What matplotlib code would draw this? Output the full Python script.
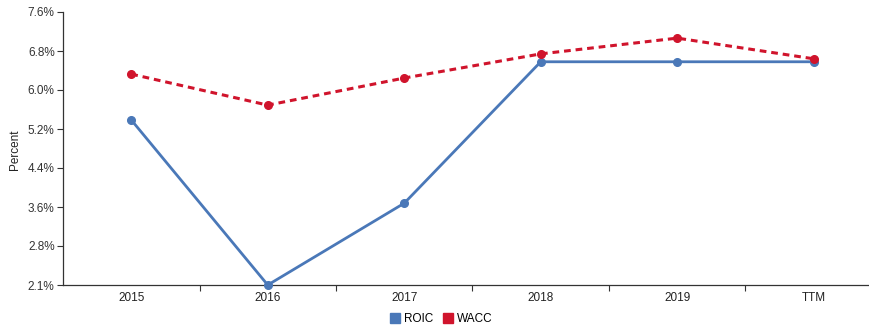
import numpy as np
import matplotlib.pyplot as plt
from matplotlib.patches import Patch

categories = ["2015", "2016", "2017", "2018", "2019", "TTM"]
roic = [5.41, 2.06, 3.72, 6.59, 6.59, 6.59]
wacc = [6.34, 5.71, 6.26, 6.75, 7.07, 6.65]
ytick_labels = ["2.1%", "2.8%", "3.6%", "4.4%", "5.2%", "6.0%", "6.8%", "7.6%"]

ymin, ymax = 2.06, 7.6
blue = "#4a78b8"
red = "#d0142c"

plt.rcParams['font.family'] = ['Liberation Sans', 'DejaVu Sans']

fig = plt.figure(figsize=(8.7, 3.28), dpi=100)
ax = fig.add_axes([63 / 870, 1 - 285 / 328, 819 / 870, 273 / 328])

x = np.arange(len(categories))
ax.plot(x, roic, color=blue, lw=2.0, marker="o", ms=5.5, solid_capstyle="round",
        clip_on=False, zorder=3)
ax.plot(x, wacc, color=red, lw=2.2, ls=(0, (2.2, 1.6)), marker="o", ms=5.5,
        clip_on=False, zorder=4)

ax.set_xlim(-0.5, len(categories) - 0.5)
ax.set_ylim(ymin, ymax)

ax.set_xticks(x)
ax.set_xticklabels(categories, fontsize=8.5, color="#222222")
ax.set_xticks(np.arange(0.5, len(categories) - 0.5), minor=True)
ax.tick_params(axis="x", which="major", length=0, pad=5)
ax.tick_params(axis="x", which="minor", length=4, width=0.8, color="#333333")

ax.set_yticks(np.linspace(ymin, ymax, len(ytick_labels)))
ax.set_yticklabels(ytick_labels, fontsize=8.5, color="#333333")
ax.tick_params(axis="y", length=4, width=0.8, color="#333333", pad=2)

for s in ["top", "right"]:
    ax.spines[s].set_visible(False)
for s in ["left", "bottom"]:
    ax.spines[s].set_color("#333333")
    ax.spines[s].set_linewidth(0.9)

fig.text(15 / 870, 1 - 150 / 328, "Percent", rotation=90, fontsize=8.5,
         ha="center", va="center", color="#222222")

handles = [Patch(color=blue, label="ROIC"), Patch(color=red, label="WACC")]
fig.legend(handles=handles, loc="center", bbox_to_anchor=(441 / 870, 1 - 319 / 328),
           ncol=2, frameon=False, fontsize=8.5, handlelength=0.9, handleheight=0.9,
           handletextpad=0.3, columnspacing=0.8)

fig.savefig("out.png", dpi=100)
